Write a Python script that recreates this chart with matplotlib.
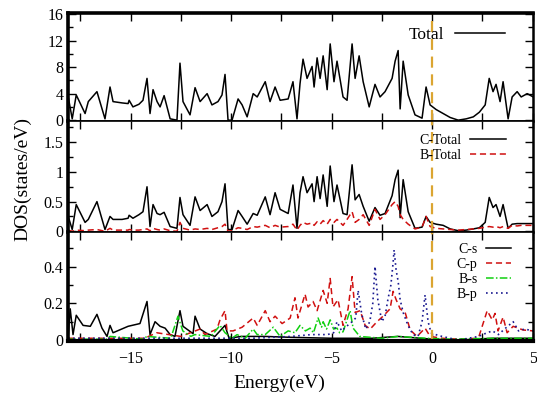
import numpy as np
import matplotlib.pyplot as plt
from matplotlib.ticker import MultipleLocator, FormatStrFormatter

plt.rcParams['font.family'] = ['Liberation Serif', 'DejaVu Serif']

# total DOS / C-total / B-total
energy = [-18.1, -17.9, -17.7, -17.26, -17.1, -16.67, -16.27, -16.02, -15.87, -15.42,
          -15.12, -15.07, -14.88, -14.58, -14.38, -14.18, -14.03, -13.88, -13.68, -13.53,
          -13.33, -13.03, -12.69, -12.54, -12.39, -12.04, -11.79, -11.54, -11.19, -10.95,
          -10.65, -10.45, -10.3, -10.15, -9.95, -9.65, -9.45, -9.2, -8.9, -8.7,
          -8.3, -8.06, -7.81, -7.56, -7.16, -6.92, -6.72, -6.57, -6.42, -6.22,
          -5.97, -5.87, -5.72, -5.57, -5.42, -5.22, -5.07, -4.88, -4.73, -4.43,
          -4.23, -3.98, -3.83, -3.63, -3.43, -3.13, -2.84, -2.59, -2.34, -1.99,
          -1.84, -1.69, -1.59, -1.44, -1.19, -0.85, -0.5, -0.3, -0.1, 0.2,
          0.55, 0.9, 1.3, 1.7, 2.05, 2.35, 2.64, 2.84, 3.03, 3.18,
          3.38, 3.53, 3.78, 3.98, 4.23, 4.43, 4.73, 5.03]
total = [3.5, 0.2, 3.8, 1.0, 2.8, 4.3, 0.2, 5.0, 2.8, 2.6,
         2.5, 3.0, 2.0, 2.4, 3.0, 6.3, 1.0, 4.6, 2.8, 2.0,
         3.7, 0.2, 0.0, 8.6, 2.8, 0.8, 4.9, 2.8, 4.0, 2.3,
         2.8, 3.8, 6.9, 0.0, 0.0, 3.2, 2.3, 0.5, 4.0, 3.5,
         5.8, 2.8, 5.0, 3.0, 3.2, 5.8, 0.2, 5.5, 9.2, 6.3,
         8.1, 5.0, 9.4, 6.3, 9.7, 4.6, 11.5, 5.8, 8.9, 3.5,
         3.0, 11.5, 6.3, 9.7, 5.8, 2.0, 5.4, 3.5, 4.3, 6.3,
         8.9, 10.5, 1.7, 8.9, 3.8, 0.8, 0.3, 5.0, 2.3, 1.6,
         1.0, 0.4, 0.0, 0.2, 0.5, 1.2, 2.3, 6.3, 4.3, 5.4,
         2.8, 5.8, 0.2, 3.5, 4.3, 3.5, 4.0, 3.5]
c_total = [0.25, 0.03, 0.45, 0.15, 0.2, 0.5, 0.03, 0.25, 0.2, 0.2,
           0.22, 0.27, 0.22, 0.28, 0.33, 0.75, 0.08, 0.45, 0.3, 0.28,
           0.32, 0.08, 0.05, 0.57, 0.28, 0.1, 0.58, 0.35, 0.45, 0.25,
           0.33, 0.5, 0.8, 0.03, 0.03, 0.35, 0.25, 0.12, 0.3, 0.27,
           0.58, 0.28, 0.65, 0.37, 0.3, 0.78, 0.05, 0.65, 0.92, 0.65,
           0.8, 0.5, 0.92, 0.55, 0.95, 0.42, 1.1, 0.5, 0.78, 0.3,
           0.28, 1.12, 0.53, 0.62, 0.42, 0.17, 0.4, 0.27, 0.3, 0.6,
           0.87, 1.03, 0.23, 0.87, 0.33, 0.05, 0.07, 0.25, 0.15, 0.12,
           0.1, 0.04, 0.01, 0.02, 0.04, 0.06, 0.15, 0.57, 0.4, 0.45,
           0.25, 0.45, 0.05, 0.12, 0.13, 0.13, 0.13, 0.13]
b_total = [0.02, 0.0, 0.02, 0.01, 0.02, 0.03, 0.0, 0.05, 0.02, 0.02,
           0.02, 0.03, 0.02, 0.02, 0.03, 0.04, 0.01, 0.05, 0.03, 0.02,
           0.04, 0.01, 0.0, 0.15, 0.05, 0.02, 0.04, 0.03, 0.05, 0.03,
           0.06, 0.08, 0.12, 0.0, 0.01, 0.06, 0.05, 0.03, 0.08, 0.07,
           0.1, 0.06, 0.1, 0.07, 0.08, 0.12, 0.02, 0.1, 0.15, 0.12,
           0.14, 0.1, 0.16, 0.12, 0.18, 0.12, 0.2, 0.15, 0.2, 0.1,
           0.2, 0.33, 0.15, 0.2, 0.28, 0.1, 0.37, 0.2, 0.28, 0.45,
           0.5, 0.42, 0.28, 0.2, 0.12, 0.04, 0.07, 0.25, 0.08, 0.05,
           0.04, 0.03, 0.02, 0.03, 0.04, 0.05, 0.07, 0.08, 0.07, 0.08,
           0.06, 0.08, 0.05, 0.1, 0.09, 0.1, 0.1, 0.1]

# partial DOS
cs_e = [-18.1, -18.0, -17.86, -17.7, -17.36, -17.0, -16.67, -16.42, -16.17, -16.02,
        -15.87, -15.12, -14.53, -14.18, -14.03, -13.78, -13.53, -13.28, -13.03, -12.79,
        -12.54, -12.39, -11.89, -11.79, -11.54, -11.19, -10.8, -10.3, -10.1, -9.5,
        -8.3, -7.0, -5.0, -3.0, -1.7, 0.0, 1.3, 3.0, 5.03]
cs = [0.02, 0.17, 0.03, 0.135, 0.08, 0.075, 0.14, 0.065, 0.02, 0.08,
      0.04, 0.075, 0.09, 0.21, 0.03, 0.1, 0.075, 0.065, 0.03, 0.02,
      0.16, 0.075, 0.035, 0.13, 0.06, 0.035, 0.02, 0.08, 0.01, 0.02,
      0.02, 0.015, 0.01, 0.01, 0.02, 0.005, 0.0, 0.01, 0.01]

cp_e = [-18.1, -16.0, -14.3, -13.7, -12.5, -11.54, -11.3, -10.7, -10.55, -10.3,
        -10.2, -9.9, -9.45, -8.9, -8.7, -8.3, -8.06, -7.81, -7.46, -7.06,
        -6.82, -6.67, -6.32, -6.17, -5.92, -5.72, -5.42, -5.22, -5.07, -4.93,
        -4.68, -4.43, -4.18, -3.98, -3.83, -3.58, -3.33, -3.08, -2.74, -2.44,
        -2.09, -1.94, -1.79, -1.59, -1.34, -1.09, -0.75, -0.35, -0.1, 0.5,
        1.3, 2.3, 2.74, 2.99, 3.13, 3.28, 3.53, 3.73, 4.03, 4.53, 5.03]
cp = [0.01, 0.01, 0.01, 0.04, 0.02, 0.06, 0.03, 0.06, 0.11, 0.16,
      0.05, 0.05, 0.07, 0.12, 0.08, 0.16, 0.1, 0.13, 0.09, 0.12,
      0.23, 0.12, 0.25, 0.18, 0.21, 0.16, 0.27, 0.2, 0.335, 0.18,
      0.22, 0.08, 0.17, 0.345, 0.15, 0.16, 0.08, 0.06, 0.1, 0.13,
      0.17, 0.265, 0.22, 0.17, 0.15, 0.055, 0.02, 0.065, 0.02, 0.01,
      0.005, 0.01, 0.16, 0.11, 0.145, 0.05, 0.125, 0.04, 0.075, 0.055, 0.05]

bs_e = [-18.1, -16.2, -16.02, -14.4, -14.18, -13.0, -12.64, -12.4, -12.0, -11.8,
        -11.0, -10.55, -10.3, -9.95, -9.7, -9.3, -8.9, -8.7, -8.3, -7.9,
        -7.56, -7.16, -6.82, -6.57, -6.3, -6.07, -5.9, -5.67, -5.5, -5.42,
        -5.25, -5.07, -4.9, -4.73, -4.6, -4.43, -4.08, -3.93, -3.6, -2.5,
        -1.7, -0.3, 1.0, 3.0, 5.03]
bs = [0.005, 0.005, 0.02, 0.005, 0.02, 0.01, 0.13, 0.05, 0.02, 0.03,
      0.02, 0.08, 0.04, 0.01, 0.03, 0.01, 0.06, 0.03, 0.03, 0.07,
      0.02, 0.05, 0.04, 0.08, 0.05, 0.065, 0.04, 0.12, 0.07, 0.1,
      0.06, 0.11, 0.06, 0.065, 0.04, 0.045, 0.16, 0.065, 0.02, 0.01,
      0.02, 0.01, 0.005, 0.01, 0.01]

bp_e = [-18.1, -9.0, -7.0, -6.0, -5.2, -4.9, -4.73, -4.5, -4.2, -3.98,
        -3.8, -3.68, -3.5, -3.3, -3.1, -2.95, -2.84, -2.7, -2.5, -2.34,
        -2.2, -2.05, -1.94, -1.89, -1.79, -1.69, -1.59, -1.44, -1.2, -0.95,
        -0.7, -0.5, -0.35, -0.2, -0.05, 0.3, 0.9, 1.3, 1.8, 2.3,
        2.74, 3.0, 3.3, 3.6, 4.03, 4.3, 4.6, 5.03]
bp = [0.01, 0.01, 0.02, 0.03, 0.03, 0.04, 0.1, 0.05, 0.08, 0.1,
      0.12, 0.27, 0.14, 0.06, 0.1, 0.2, 0.4, 0.22, 0.1, 0.13,
      0.22, 0.3, 0.42, 0.49, 0.38, 0.32, 0.22, 0.15, 0.08, 0.03,
      0.02, 0.1, 0.245, 0.1, 0.04, 0.025, 0.01, 0.0, 0.01, 0.02,
      0.04, 0.05, 0.03, 0.06, 0.1, 0.05, 0.06, 0.05]

fermi_color = '#dba531'

fig = plt.figure(figsize=(5.37, 3.97), dpi=100)
ax1 = fig.add_axes([0.127, 0.694, 0.866, 0.273])
ax2 = fig.add_axes([0.127, 0.4144, 0.866, 0.2796])
ax3 = fig.add_axes([0.127, 0.141, 0.866, 0.2734])

ax1.plot(energy, total, color='black', lw=1.1, label='Total')
ax2.plot(energy, c_total, color='black', lw=1.1, label='C-Total')
ax2.plot(energy, b_total, color='#d01010', lw=1.1, ls=(0, (4, 2.5)), label='B-Total')
ax3.plot(cs_e, cs, color='black', lw=1.1, label='C-s')
ax3.plot(cp_e, cp, color='#d01010', lw=1.1, ls=(0, (4, 2.5)), label='C-p')
ax3.plot(bs_e, bs, color='#10d010', lw=1.1, ls=(0, (5, 1.5, 1, 1.5)), label='B-s')
ax3.plot(bp_e, bp, color='#1a1a90', lw=1.2, ls=(0, (1, 2)), label='B-p')

ax1.set_ylim(-0.2, 16.15)
ax2.set_ylim(-0.02, 1.85)
ax3.set_ylim(-0.005, 0.585)
ax1.set_yticks([0, 4, 8, 12, 16])
ax2.set_yticks([0, 0.5, 1, 1.5])
ax3.set_yticks([0, 0.2, 0.4])
ax1.yaxis.set_minor_locator(MultipleLocator(2))
ax2.yaxis.set_minor_locator(MultipleLocator(0.25))
ax3.yaxis.set_minor_locator(MultipleLocator(0.1))
ax2.yaxis.set_major_formatter(FormatStrFormatter('%g'))
ax3.yaxis.set_major_formatter(FormatStrFormatter('%g'))

for ax in (ax1, ax2, ax3):
    ax.axvline(0, color=fermi_color, lw=1.6, ls=(0, (5, 3)))
    ax.set_xlim(-18.1, 5.03)
    ax.set_xticks([-15, -10, -5, 0, 5])
    ax.xaxis.set_minor_locator(MultipleLocator(2.5))
    ax.tick_params(which='both', direction='in', top=True, right=True, labelsize=11.5)
    ax.tick_params(which='major', length=6, width=1)
    ax.tick_params(which='minor', length=3.5, width=1)
    ax.tick_params(axis='x', which='minor', length=6)
    ax.tick_params(axis='x', pad=7)
    for s in ax.spines.values():
        s.set_linewidth(1.2)
    ax.spines['left'].set_linewidth(2.6)
    ax.spines['right'].set_linewidth(1.8)

ax1.spines['top'].set_linewidth(2.6)
ax3.spines['bottom'].set_linewidth(3.0)
ax1.tick_params(labelbottom=False)
ax2.tick_params(labelbottom=False)

leg_kw = dict(frameon=False, markerfirst=False, handletextpad=0.6,
              labelspacing=0.15, borderaxespad=0.2)
ax1.legend(loc='upper right', bbox_to_anchor=(0.962, 0.97), fontsize=12.5,
           handlelength=2.9, **leg_kw)
ax2.legend(loc='upper right', bbox_to_anchor=(0.96, 0.964), fontsize=10,
           handlelength=2.6, **leg_kw)
ax3.legend(loc='upper right', bbox_to_anchor=(0.97, 0.98), fontsize=10,
           handlelength=1.8, **leg_kw)

fig.text(0.521, 0.035, 'Energy(eV)', fontsize=14, ha='center', va='center')
fig.text(0.043, 0.549, 'DOS(states/eV)', rotation=90, fontsize=14, ha='center', va='center')

fig.savefig('out.png', dpi=100)
